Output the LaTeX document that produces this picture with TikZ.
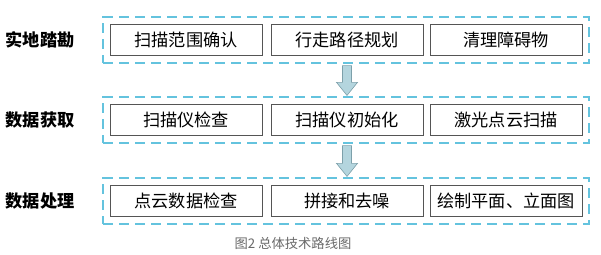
\documentclass[tikz,border=0pt]{standalone}
\usepackage{fontspec}
\setmainfont{Noto Sans CJK SC}
\usetikzlibrary{fit}
\usetikzlibrary{calc}
\definecolor{dashblue}{RGB}{100,195,222}
\definecolor{boxgray}{RGB}{85,85,85}
\definecolor{arrowfill}{RGB}{180,213,222}
\definecolor{arrowline}{RGB}{125,160,170}
\definecolor{captiongray}{RGB}{105,105,105}

\begin{document}
\begin{tikzpicture}[x=1pt,y=-1pt,
        stepbox/.style={draw=boxgray,line width=0.9pt,minimum width=152pt,minimum height=31pt,inner sep=0pt,font=\fontsize{17.2}{18}\selectfont},
        phase/.style={font=\fontsize{17.2}{18}\selectfont\bfseries},
        group/.style={draw=dashblue,line width=1.3pt,dash pattern=on 10pt off 6pt,inner xsep=6.5pt,inner ysep=7pt},
        flow/.style={fill=arrowfill,draw=arrowline,line width=0.6pt}]
        \useasboundingbox (0,0) rectangle (601,254);

        % phase labels
        \node[phase] (p1) at (40,40) {实地踏勘};
        \node[phase] (p2) at (40,120) {数据获取};
        \node[phase] (p3) at (40,201) {数据处理};

        % steps
        \node[stepbox] (s11) at (186,40) {扫描范围确认};
        \node[stepbox] (s12) at (347,40) {行走路径规划};
        \node[stepbox] (s13) at (506,40) {清理障碍物};

        \node[stepbox] (s21) at (186,120) {扫描仪检查};
        \node[stepbox] (s22) at (347,120) {扫描仪初始化};
        \node[stepbox] (s23) at (506,120) {激光点云扫描};

        \node[stepbox] (s31) at (186,201) {点云数据检查};
        \node[stepbox] (s32) at (347,201) {拼接和去噪};
        \node[stepbox] (s33) at (506,201) {绘制平面、立面图};

        \foreach \r in {1,2,3} {
            \node[group,fit=(s\r1) (s\r3)] (g\r) {};
        }

        % block arrows between the groups
        \foreach \a/\b in {1/2,2/3} {
            \coordinate (top\a) at ($(s\a2.center |- g\a.south)+(0,2)$);
            \coordinate (tip\a) at ($(s\b2.center |- g\b.north)+(0,-1)$);
            \filldraw[flow] ($(top\a)+(-4.5,0)$) -- ($(top\a)+(4.5,0)$) -- ($(tip\a)+(4.5,-13)$) -- ($(tip\a)+(10.5,-13)$)
                -- (tip\a) -- ($(tip\a)+(-10.5,-13)$) -- ($(tip\a)+(-4.5,-13)$) -- cycle;
        }

        \node[text=captiongray,font=\fontsize{13.3}{14}\selectfont] (cap) at (293,243) {图2 总体技术路线图};
    \end{tikzpicture}
\end{document}
